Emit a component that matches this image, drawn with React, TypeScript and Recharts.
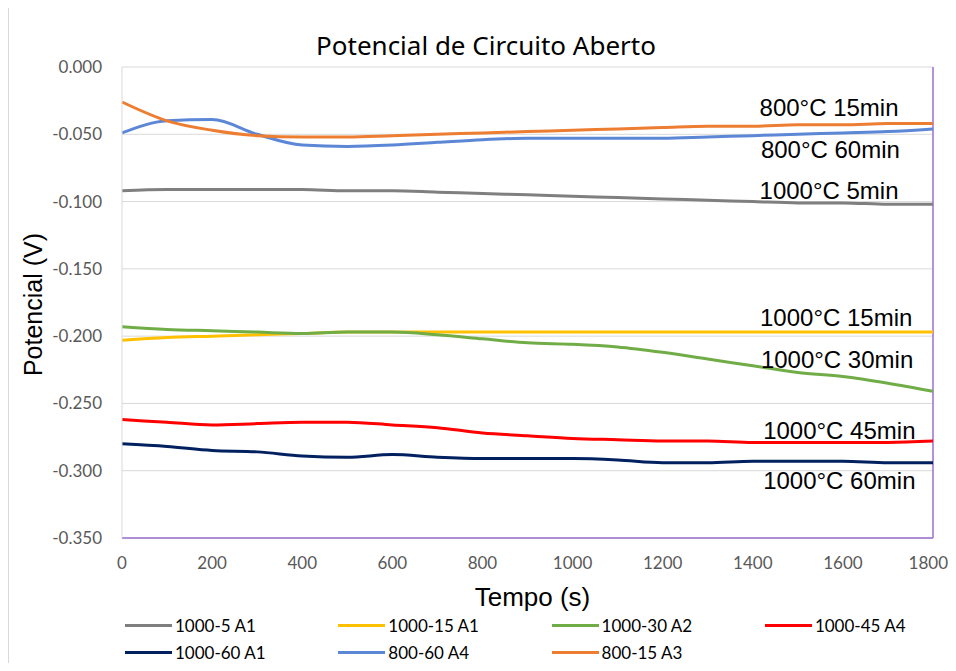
import { CartesianGrid, Legend, Line, LineChart, ReferenceDot, ReferenceLine, XAxis, YAxis } from "recharts";

const tempo = [0, 100, 200, 300, 400, 500, 600, 700, 800, 900, 1000, 1100, 1200, 1300, 1400, 1500, 1600, 1700, 1800];

const s1000_5 = [-0.092, -0.091, -0.091, -0.091, -0.091, -0.092, -0.092, -0.093, -0.094, -0.095, -0.096, -0.097, -0.098, -0.099, -0.1, -0.101, -0.101, -0.102, -0.102];
const s1000_15 = [-0.203, -0.201, -0.2, -0.199, -0.198, -0.197, -0.197, -0.197, -0.197, -0.197, -0.197, -0.197, -0.197, -0.197, -0.197, -0.197, -0.197, -0.197, -0.197];
const s1000_30 = [-0.193, -0.195, -0.196, -0.197, -0.198, -0.197, -0.197, -0.199, -0.202, -0.205, -0.206, -0.208, -0.212, -0.217, -0.222, -0.227, -0.23, -0.235, -0.241];
const s1000_45 = [-0.262, -0.264, -0.266, -0.265, -0.264, -0.264, -0.266, -0.268, -0.272, -0.274, -0.276, -0.277, -0.278, -0.278, -0.279, -0.279, -0.279, -0.279, -0.278];
const s1000_60 = [-0.28, -0.282, -0.285, -0.286, -0.289, -0.29, -0.288, -0.29, -0.291, -0.291, -0.291, -0.292, -0.294, -0.294, -0.293, -0.293, -0.293, -0.294, -0.294];
const s800_60 = [-0.049, -0.04, -0.039, -0.05, -0.058, -0.059, -0.058, -0.056, -0.054, -0.053, -0.053, -0.053, -0.053, -0.052, -0.051, -0.05, -0.049, -0.048, -0.046];
const s800_15 = [-0.026, -0.04, -0.047, -0.051, -0.052, -0.052, -0.051, -0.05, -0.049, -0.048, -0.047, -0.046, -0.045, -0.044, -0.044, -0.043, -0.043, -0.042, -0.042];

const xTicks = [0, 200, 400, 600, 800, 1000, 1200, 1400, 1600, 1800];
const yTicks = [0, -0.05, -0.1, -0.15, -0.2, -0.25, -0.3, -0.35];

const series = [
  { key: "a", name: "1000-5 A1", values: s1000_5, color: "#7f7f7f" },
  { key: "b", name: "1000-15 A1", values: s1000_15, color: "#ffc000" },
  { key: "c", name: "1000-30 A2", values: s1000_30, color: "#70ad47" },
  { key: "d", name: "1000-45 A4", values: s1000_45, color: "#ff0000" },
  { key: "e", name: "1000-60 A1", values: s1000_60, color: "#002060" },
  { key: "f", name: "800-60 A4", values: s800_60, color: "#5b87d6" },
  { key: "g", name: "800-15 A3", values: s800_15, color: "#ed7d31" },
];

// annotation text, placed in data coordinates
const notes = [
  { text: "800°C 15min", t: 1415, v: -0.0301 },
  { text: "800°C 60min", t: 1418, v: -0.0613 },
  { text: "1000°C 5min", t: 1415, v: -0.0918 },
  { text: "1000°C 15min", t: 1416, v: -0.1861 },
  { text: "1000°C 30min", t: 1418, v: -0.2177 },
  { text: "1000°C 45min", t: 1423, v: -0.2701 },
  { text: "1000°C 60min", t: 1423, v: -0.3073 },
];

const data = tempo.map((t, i) => {
  const row: Record<string, number> = { t };
  series.forEach((s) => (row[s.key] = s.values[i]));
  return row;
});

const purple = "#9b6fd0";
const calibri = "Lato, 'Open Sans', sans-serif";
const arial = "'Liberation Sans', Arial, sans-serif";

function XTick({ x, y, payload }: any) {
  const last = payload.value === xTicks[xTicks.length - 1];
  return (
    <text
      x={last ? x + 15 : x}
      y={y + 13}
      textAnchor={last ? "end" : "middle"}
      fill="#595959"
      fontSize={17}
      fontFamily={calibri}
    >
      {payload.value}
    </text>
  );
}

function LegendBox() {
  return (
    <div style={{ position: "relative", width: 948, height: 50, fontFamily: calibri, fontSize: 17, color: "#000" }}>
      {series.map((s, i) => (
        <div
          key={s.key}
          style={{
            position: "absolute",
            left: 116 + (i % 4) * 213.3,
            top: i < 4 ? 0 : 27,
            height: 20,
            display: "flex",
            alignItems: "center",
            whiteSpace: "nowrap",
          }}
        >
          <span style={{ display: "inline-block", width: 47, height: 3, background: s.color, marginRight: 3 }} />
          {s.name}
        </div>
      ))}
    </div>
  );
}

export default function App() {
  return (
    <div style={{ position: "relative", width: 948, height: 655, borderTop: "1px solid #d9d9d9", borderLeft: "1px solid #d9d9d9", marginTop: -1 }}>
      <style>{`html, body { overflow: hidden; } .recharts-surface { overflow: visible; }`}</style>
      <div
        style={{
          position: "absolute",
          left: 0,
          width: 960,
          top: 20,
          textAlign: "center",
          fontFamily: "'Noto Sans', sans-serif",
          fontSize: 26,
          lineHeight: "34px",
          color: "#000",
          paddingRight: 6,
          boxSizing: "border-box",
        }}
      >
        Potencial de Circuito Aberto
      </div>
      <LineChart width={948} height={655} data={data} margin={{ top: 59, right: 24, left: 0, bottom: 5 }}>
        <CartesianGrid vertical={false} stroke="#d9d9d9" />
        <XAxis
          dataKey="t"
          type="number"
          domain={[0, 1800]}
          ticks={xTicks}
          height={70}
          tickLine={false}
          tickSize={0}
          tickMargin={18}
          axisLine={{ stroke: purple, strokeWidth: 1.5 }}
          tick={<XTick />}
          label={({ viewBox }: any) => (
            <text
              x={viewBox.x + viewBox.width / 2 + 5}
              y={viewBox.y + 59}
              textAnchor="middle"
              dominantBaseline="central"
              fontFamily={arial}
              fontSize={26}
              fill="#000"
            >
              Tempo (s)
            </text>
          )}
        />
        <YAxis
          type="number"
          domain={[-0.35, 0]}
          ticks={yTicks}
          width={113}
          tickLine={false}
          tickSize={0}
          tickMargin={20}
          axisLine={{ stroke: "#d9d9d9" }}
          tickFormatter={(v: number) => v.toFixed(3)}
          tick={{ fill: "#595959", fontSize: 17, fontFamily: calibri }}
          label={({ viewBox }: any) => (
            <text
              x={24}
              y={viewBox.y + viewBox.height / 2 + 2}
              transform={`rotate(-90 24 ${viewBox.y + viewBox.height / 2 + 2})`}
              textAnchor="middle"
              dominantBaseline="central"
              fontFamily={arial}
              fontSize={25}
              fill="#000"
            >
              Potencial (V)
            </text>
          )}
        />
        <ReferenceLine x={1800} stroke={purple} strokeWidth={1.5} />
        {series.map((s) => (
          <Line
            key={s.key}
            type="monotone"
            dataKey={s.key}
            name={s.name}
            stroke={s.color}
            strokeWidth={3}
            dot={false}
            isAnimationActive={false}
          />
        ))}
        {notes.map((n) => (
          <ReferenceDot
            key={n.text}
            x={n.t}
            y={n.v}
            r={0}
            fill="none"
            stroke="none"
            label={{
              value: n.text,
              position: "right",
              offset: 0,
              fill: "#000",
              fontSize: 24,
              fontFamily: arial,
            }}
          />
        ))}
        <Legend content={() => <LegendBox />} wrapperStyle={{ left: 0, top: 607, width: 948 }} />
      </LineChart>
    </div>
  );
}
